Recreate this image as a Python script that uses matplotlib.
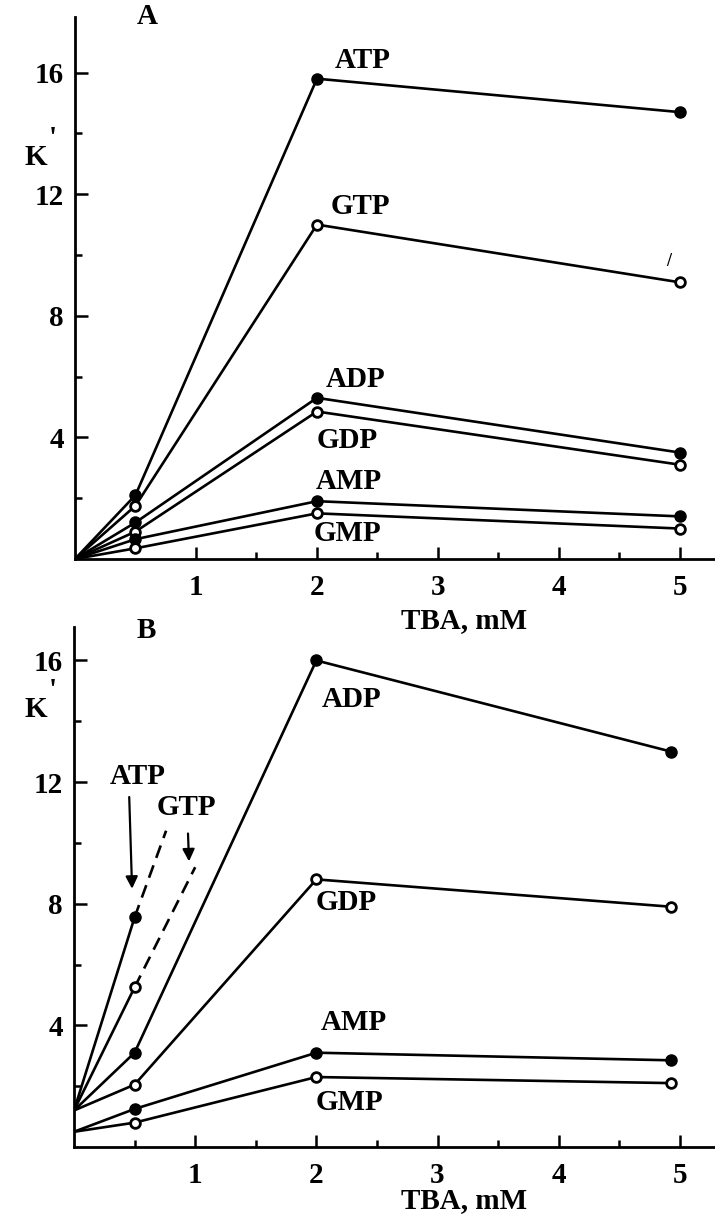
import matplotlib
matplotlib.use("Agg")
import matplotlib.pyplot as plt

plt.rcParams["font.family"] = ["Liberation Serif", "DejaVu Serif"]
plt.rcParams["font.weight"] = "bold"

# ---- panel A ----
xa = [0, 0.5, 2, 5]
a_atp = [0, 2.1, 15.8, 14.7]
a_gtp = [0, 1.75, 11.0, 9.1]
a_adp = [0, 1.2, 5.3, 3.5]
a_gdp = [0, 0.9, 4.85, 3.1]
a_amp = [0, 0.65, 1.9, 1.4]
a_gmp = [0, 0.35, 1.5, 1.0]

# ---- panel B ----
xb = [0, 0.5, 2, 4.93]
b_adp = [1.2, 3.1, 16.0, 13.0]
b_gdp = [1.2, 2.05, 8.8, 7.9]
b_amp = [0.5, 1.25, 3.1, 2.85]
b_gmp = [0.5, 0.8, 2.3, 2.1]
xb_tp = [0, 0.5]
b_atp = [1.2, 7.55]
b_gtp = [1.2, 5.25]
# dashed continuation past the last measured point
xb_atp_dash = [0.5, 0.76]
b_atp_dash = [7.55, 10.4]
xb_gtp_dash = [0.5, 1.0]
b_gtp_dash = [5.25, 9.2]

major_y = [4, 8, 12, 16]
minor_y = [2, 6, 10, 14]
major_x = [1, 2, 3, 4, 5]

LW = 1.9
FS = 21


def series(ax, x, y, filled, first=1):
    ax.plot(x, y, color="black", lw=LW, zorder=2)
    mx, my = x[first:], y[first:]
    if filled:
        ax.plot(mx, my, "o", ms=8, mfc="black", mec="black", zorder=3)
    else:
        ax.plot(mx, my, "o", ms=7, mfc="white", mec="black", mew=2, zorder=3)


def style(ax, ymax, minor_x):
    ax.set_xlim(0, 5.29)
    ax.set_ylim(0, ymax)
    ax.patch.set_visible(False)
    for s in ["top", "right"]:
        ax.spines[s].set_visible(False)
    for s in ["left", "bottom"]:
        ax.spines[s].set_linewidth(2)
    ax.set_xticks(major_x)
    ax.set_xticks(minor_x, minor=True)
    ax.set_yticks(major_y)
    ax.set_yticks(minor_y, minor=True)
    ax.tick_params(which="major", direction="in", length=9, width=1.8,
                   labelsize=FS)
    ax.tick_params(which="minor", direction="in", length=5, width=1.8)
    ax.tick_params(axis="x", which="major", pad=11)
    ax.tick_params(axis="y", which="major", pad=8)
    for lab in ax.get_xticklabels() + ax.get_yticklabels():
        lab.set_fontweight("bold")
    ax.set_xlabel("TBA, mM", fontsize=FS, fontweight="bold")


fig = plt.figure(figsize=(7.15, 12.22), dpi=100)
axA = fig.add_axes([0.1049, 0.5426, 0.8951, 0.4435])
axB = fig.add_axes([0.1035, 0.0614, 0.8965, 0.4255])

# panel A
series(axA, xa, a_atp, True)
series(axA, xa, a_gtp, False)
series(axA, xa, a_adp, True)
series(axA, xa, a_gdp, False)
series(axA, xa, a_amp, True)
series(axA, xa, a_gmp, False)
style(axA, 17.83, [1.5, 2.5, 3.5, 4.5])
axA.xaxis.set_label_coords(0.608, -0.088)

tk = dict(fontsize=FS, fontweight="bold", ha="center", va="center")
axA.text(0.6, 17.85, "A", clip_on=False, **tk)
axA.text(2.38, 16.4, "ATP", **tk)
axA.text(2.36, 11.6, "GTP", **tk)
axA.text(2.32, 5.9, "ADP", **tk)
axA.text(2.25, 3.9, "GDP", **tk)
axA.text(2.26, 2.55, "AMP", **tk)
axA.text(2.25, 0.85, "GMP", **tk)
axA.text(4.91, 9.8, "/", fontsize=13, fontweight="bold", ha="center", va="center")

# panel B
series(axB, xb, b_adp, True)
series(axB, xb, b_gdp, False)
series(axB, xb, b_amp, True)
series(axB, xb, b_gmp, False)
series(axB, xb_tp, b_atp, True)
series(axB, xb_tp, b_gtp, False)
axB.plot(xb_atp_dash, b_atp_dash, color="black", lw=LW, ls=(0, (5, 3)), zorder=1)
axB.plot(xb_gtp_dash, b_gtp_dash, color="black", lw=LW, ls=(0, (5, 3)), zorder=1)
style(axB, 17.1, [0.5, 1.5, 2.5, 3.5, 4.5])
axB.xaxis.set_label_coords(0.608, -0.077)

axB.text(0.6, 17.0, "B", clip_on=False, **tk)
axB.text(2.29, 14.7, "ADP", **tk)
axB.text(2.25, 8.05, "GDP", **tk)
axB.text(2.31, 4.1, "AMP", **tk)
axB.text(2.27, 1.45, "GMP", **tk)
axB.text(0.53, 12.2, "ATP", **tk)
axB.text(0.93, 11.15, "GTP", **tk)
arr = dict(arrowstyle="-|>", color="black", lw=1.6, mutation_scale=18)
axB.annotate("", xy=(0.48, 8.4), xytext=(0.455, 11.6), arrowprops=arr)
axB.annotate("", xy=(0.95, 9.3), xytext=(0.94, 10.4), arrowprops=arr)

# K' axis titles
for yk in [0.871, 0.419]:
    fig.text(0.05, yk, "K", fontsize=FS, fontweight="bold", ha="center", va="center")
    fig.text(0.074, yk + 0.016, "'", fontsize=FS, fontweight="bold",
             ha="center", va="center")

fig.savefig("out.png", dpi=100)
